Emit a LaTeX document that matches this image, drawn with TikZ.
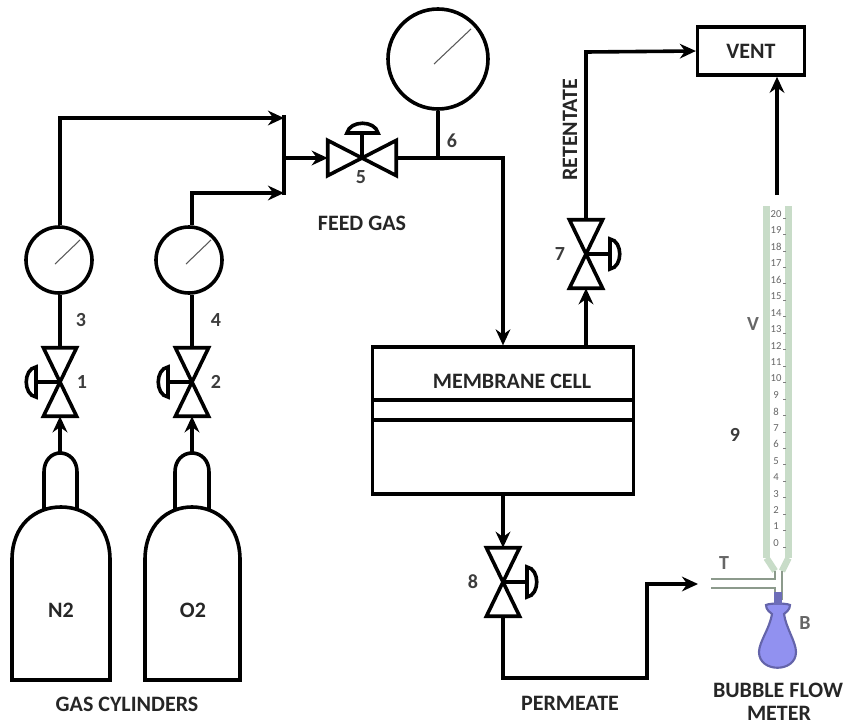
\documentclass[tikz,border=0pt]{standalone}
\usepackage{fontspec}
\setmainfont{Carlito}
\usetikzlibrary{arrows.meta}
\definecolor{wallgreen}{RGB}{200,220,200}
\definecolor{flaskblue}{RGB}{145,145,240}
\definecolor{flaskedge}{RGB}{100,100,170}
\definecolor{lblgray}{RGB}{60,60,60}
% bow-tie valve: name, position, handle side (-1 left, 1 right)
\newcommand{\vvalve}[3]{%
  \node[valvebox] (#1) at (#2) {};
  \draw[pipe] (#1.north west) -- (#1.north east) -- (#1.south west) -- (#1.south east) -- cycle;
  \draw[pipe] (#1.center) -- ++(#3*24,0);
  \draw[pipe] (#1.center) ++(#3*24,-15) .. controls +(#3*13,2) and +(#3*13,-2) .. ++(0,30) -- cycle;
}
\begin{document}
\begin{tikzpicture}[
  x=0.75pt, y=-0.75pt,
  >={Stealth[length=12pt,width=11pt]},
  pipe/.style={draw=black, line width=2.7pt, line join=miter},
  flow/.style={->, draw=black, line width=2.7pt},
  valvebox/.style={rectangle, minimum width=24.5pt, minimum height=51pt, inner sep=0pt},
  gauge/.style={circle, draw=black, line width=2.7pt, minimum size=49.5pt, inner sep=0pt},
  needle/.style={draw=black!65, line width=0.8pt},
  numlbl/.style={font={\fontsize{15}{15}\selectfont\bfseries}, text=lblgray, inner sep=0pt},
  caplbl/.style={font={\fontsize{16.5}{16.5}\selectfont\bfseries}, text=black!85, inner sep=0pt},
  wall/.style={draw=wallgreen, line width=4.9pt},
  thinwall/.style={draw=wallgreen!70!black, line width=1.6pt},
  tubenum/.style={font={\fontsize{8}{8}\selectfont}, text=black!60, inner sep=0pt},
  tubetick/.style={draw=black!50, line width=0.5pt}
]
\useasboundingbox (0,0) rectangle (847,725);
% cylinders
\draw[pipe] (12,680) -- (12,560) .. controls (12,525) and (35,507) .. (61,507) .. controls (87,507) and (110,525) .. (110,560) -- (110,680) -- cycle;
\draw[pipe] (145,680) -- (145,560) .. controls (145,525) and (167,507) .. (192,507) .. controls (217,507) and (240,525) .. (240,560) -- (240,680) -- cycle;
\draw[pipe] (44,509) -- (44,472) .. controls (44,460) and (52,453) .. (60,453) .. controls (69,453) and (77,460) .. (77,472) -- (77,509);
\draw[pipe] (175,509) -- (175,472) .. controls (175,460) and (183,453) .. (192,453) .. controls (201,453) and (209,460) .. (209,472) -- (209,509);
\coordinate (n2top) at (60,453);
\coordinate (o2top) at (192,453);
\node[caplbl] (n2lbl) at (61,610) {N2};
\node[caplbl] (o2lbl) at (193,610) {O2};
% valves
\vvalve{v1}{60,382}{-1}
\vvalve{v2}{192,382}{-1}
\vvalve{v7}{586,254}{1}
\vvalve{v8}{503,582}{1}
\node[rectangle, minimum width=51pt, minimum height=26pt, inner sep=0pt] (v5) at (362,158) {};
\draw[pipe] (v5.north west) -- (v5.south west) -- (v5.north east) -- (v5.south east) -- cycle;
\draw[pipe] (v5.center) -- (362,133);
\draw[pipe] (347,133) .. controls (350,120) and (375,120) .. (378,133) -- cycle;
% gauges
\node[gauge] (g3) at (59,260) {};
\node[gauge] (g4) at (189,260) {};
\node[gauge, minimum size=75pt] (g6) at (438,59) {};
\draw[needle] (55,264) -- (80,240);
\draw[needle] (186,264) -- (211,240);
\draw[needle] (434,64) -- (471,29);
% boxes
\node[rectangle, draw=black, line width=2.7pt, minimum width=196pt, minimum height=110pt, inner sep=0pt] (cell) at (503,420.5) {};
\draw[pipe] (372,400) -- (634,400);
\draw[pipe] (372,420) -- (634,420);
\node[caplbl] (celllbl) at (512,381) {MEMBRANE CELL};
\node[rectangle, draw=black, line width=2.7pt, minimum width=80pt, minimum height=36pt, inner sep=0pt, caplbl] (vent) at (751,51) {VENT};
% collector bar
\coordinate (bartop) at (284,115);
\coordinate (barbot) at (284,195);
\coordinate (barmid) at (284,158);
\draw[pipe] (bartop) -- (barbot);
% pipes
\draw[flow] (n2top) -- (v1.south);
\draw[flow] (o2top) -- (v2.south);
\draw[pipe] (v1.north) -- (v1 |- g3.south);
\draw[pipe] (v2.north) -- (v2 |- g4.south);
\draw[flow] (v1 |- g3.north) -- (60,118) -- (284,118);
\draw[flow] (v2 |- g4.north) -- (192,193) -- (284,193);
\draw[flow] (barmid) -- (v5.west);
\draw[flow] (v5.east) -- (503,158) -- (cell.north);
\draw[pipe] (g6.south) -- (438,158);
\draw[flow] (v7.north) -- (586,52) -- (vent.west);
\draw[flow] (586,347) -- (v7.south);
\draw[flow] (503,494) -- (v8.north);
\coordinate (tin) at (698,584);
\draw[flow] (v8.south) -- (503,678) -- (647,678) -- (647,584) -- (tin);
\coordinate (tubetop) at (777,195);
\draw[flow] (tubetop) -- (tubetop |- vent.south);
% flow meter
\draw[wall] (766.5,206) -- (766.5,558);
\draw[wall] (788.5,206) -- (788.5,558);
\draw[wall] (766.5,558) -- (775,571);
\draw[wall] (788.5,558) -- (782,571);
\draw[thinwall] (711,579) -- (775,579) -- (775,571);
\draw[thinwall] (711,588) -- (775,588) -- (775,600);
\draw[thinwall] (782,571) -- (782,600);
\foreach \n in {0,...,20} {
  \node[tubenum] (s\n) at (776,{543-\n*16.45}) {\n};
  \draw[tubetick] (783,{547-\n*16.45}) -- (786,{547-\n*16.45});
}
\draw[draw=flaskedge, fill=flaskblue, line width=1.6pt] (766,605) .. controls (770,603) and (786,603) .. (790,605) .. controls (790,610) and (786,612) .. (784,614) .. controls (786,628) and (796,642) .. (796,652) .. controls (796,673) and (759,673) .. (759,652) .. controls (759,642) and (770,628) .. (772,614) .. controls (770,612) and (766,610) .. (766,605) -- cycle;
\fill[flaskedge!80!flaskblue] (774,592) rectangle (782,605);
% labels
\node[numlbl] (l1) at (82,382) {1};
\node[numlbl] (l2) at (216,382) {2};
\node[numlbl] (l3) at (81,320) {3};
\node[numlbl] (l4) at (216,320) {4};
\node[numlbl] (l5) at (361,177) {5};
\node[numlbl] (l6) at (452,141) {6};
\node[numlbl] (l7) at (560,254) {7};
\node[numlbl] (l8) at (473,582) {8};
\node[numlbl] (l9) at (735,435) {9};
\node[numlbl, text=black!60] (lT) at (724,563) {T};
\node[numlbl, text=black!60] (lV) at (753,324) {V};
\node[numlbl, text=black!60] (lB) at (805,623) {B};
\node[caplbl] (feed) at (362,223) {FEED GAS};
\node[caplbl, rotate=90] (ret) at (570,130) {RETENTATE};
\node[caplbl] (perm) at (570,703) {PERMEATE};
\node[caplbl] (cyl) at (127,704) {GAS CYLINDERS};
\node[caplbl] (bub) at (778,690) {BUBBLE FLOW};
\node[caplbl] (met) at (779,713) {METER};
\end{tikzpicture}
\end{document}
